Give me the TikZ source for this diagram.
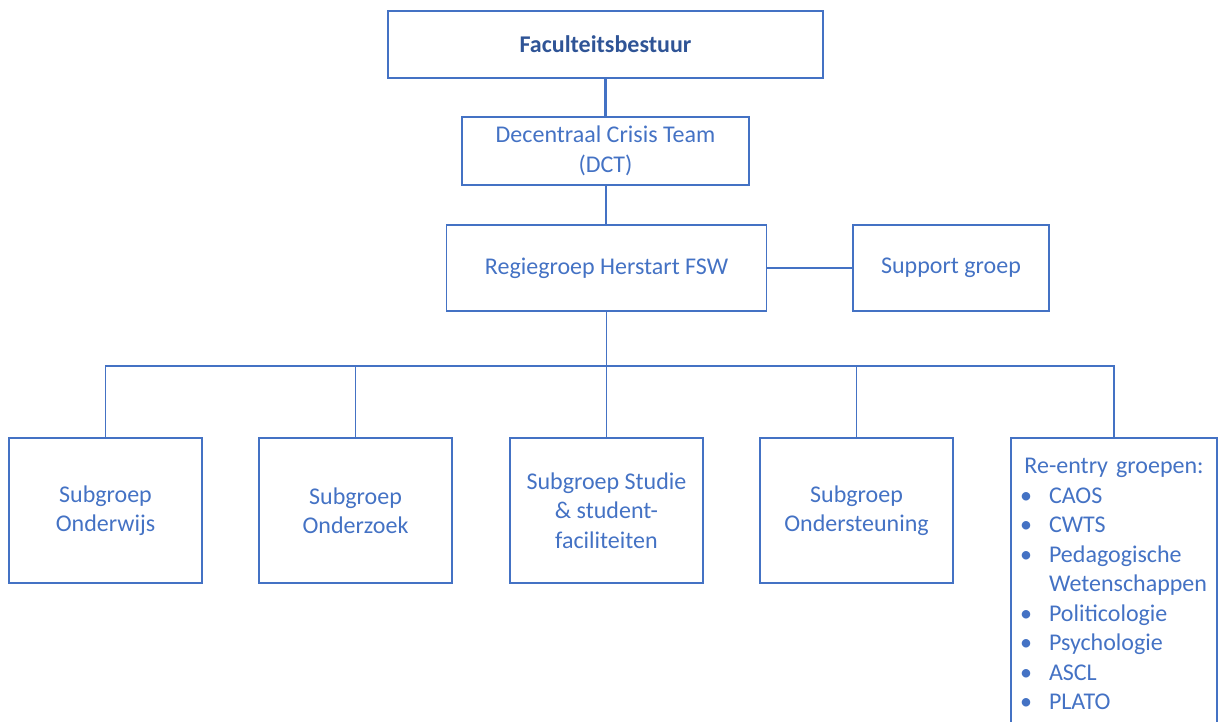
\documentclass[tikz,border=0pt]{standalone}
\usepackage{fontspec}
\setmainfont{Carlito}
\definecolor{orgblue}{RGB}{68,114,196}
\definecolor{orgdark}{RGB}{47,84,150}
\newcommand{\reitem}[1]{\makebox[30pt][l]{\hspace{1pt}\textbullet}#1}

\begin{document}
\begin{tikzpicture}[x=1pt,y=1pt,yscale=-1,
  orgbox/.style={draw=orgblue, line width=1.5pt, text=orgblue, align=center,
    inner sep=0pt, font=\fontsize{24}{29.5}\selectfont},
  orglink/.style={draw=orgblue, line width=1.5pt}]
\useasboundingbox (0,0) rectangle (1221,721);

% management levels
\node[orgbox, minimum width=435pt, minimum height=67pt, text=orgdark] (bestuur) at (605.5,44.5) {\bfseries Faculteitsbestuur};
\node[orgbox, minimum width=287pt, minimum height=68pt] (dct) at (605.5,151) {Decentraal Crisis Team\\(DCT)};
\node[orgbox, minimum width=320pt, minimum height=86pt] (regie) at (606.5,268) {Regiegroep Herstart FSW};
\node[orgbox, minimum width=196pt, minimum height=86pt] (support) at (951,268) {Support groep};

% subgroups
\node[orgbox, minimum width=193pt, minimum height=145pt] (onderwijs) at (105.5,510.5) {Subgroep\\Onderwijs};
\node[orgbox, minimum width=193pt, minimum height=145pt] (onderzoek) at (355.5,510.5) {Subgroep\\Onderzoek};
\node[orgbox, minimum width=193pt, minimum height=145pt] (studie) at (606.5,510.5) {Subgroep Studie\\\& student-\\faciliteiten};
\node[orgbox, minimum width=193pt, minimum height=145pt] (ondersteuning) at (856.5,510.5) {Subgroep\\Ondersteuning};
\node[orgbox, minimum width=206pt, minimum height=292pt, text width=190pt, align=left] (reentry) at (1114,584)
  {\makebox[190pt][c]{Re-entry groepen:}\\
   \reitem{CAOS}\\
   \reitem{CWTS}\\
   \reitem{Pedagogische}\\
   \hspace*{30pt}Wetenschappen\\
   \reitem{Politicologie}\\
   \reitem{Psychologie}\\
   \reitem{ASCL}\\
   \reitem{PLATO}};

% connectors
\draw[orglink, line width=2.5pt] (bestuur) -- (dct);
\draw[orglink, line width=2pt] (dct.south) -- (dct.south|-regie.north);
\draw[orglink] (regie) -- (support);
\coordinate (bus) at (606.5,366);
\draw[orglink] (regie) -- (bus);
\foreach \grp in {onderwijs,onderzoek,studie,ondersteuning,reentry}
  \draw[orglink] (bus) -| (\grp.north);

\end{tikzpicture}
\end{document}
